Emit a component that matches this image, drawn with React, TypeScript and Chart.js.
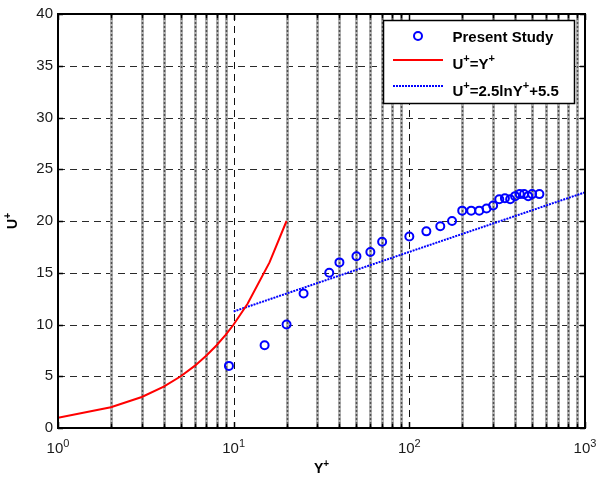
import React, { useEffect, useRef } from 'react';
import { Chart, registerables } from 'chart.js';

Chart.register(...registerables);

// Present study data (Y+, U+)
const presentX = [9.4, 15, 20, 25, 35, 40, 50, 60, 70, 100, 125, 150, 175, 200, 225, 250, 275, 300, 325, 350, 375, 400, 425, 450, 475, 500, 550];
const presentY = [6, 8, 10, 13, 15, 16, 16.6, 17, 18, 18.5, 19, 19.5, 20, 21, 21, 21, 21.2, 21.5, 22.1, 22.2, 22.1, 22.4, 22.6, 22.6, 22.4, 22.6, 22.6];

// Viscous sublayer U+ = Y+
const linearX = [1, 2, 3, 4, 5, 6, 7, 8, 9, 10, 12, 16, 20];
const linearY = [1, 2, 3, 4, 5, 6, 7, 8, 9, 10, 12, 16, 20];

// Log law U+ = 2.5 ln Y+ + 5.5
const logLawX = [10, 1000];
const logLawY = [11.26, 22.77];

// Axes
const xMin = 1;
const xMax = 1000;
const yMin = 0;
const yMax = 40;
const yStep = 5;
const xTickValues = [1, 10, 100, 1000];
const xTickBase = '10';
const xTickExps = ['0', '1', '2', '3'];

type Part = [string, boolean];
const xTitle: Part[] = [['Y', false], ['+', true]];
const yTitle: Part[] = [['U', false], ['+', true]];
const legendLabels: Part[][] = [
  [['Present Study', false]],
  [['U', false], ['+', true], ['=Y', false], ['+', true]],
  [['U', false], ['+', true], ['=2.5lnY', false], ['+', true], ['+5.5', false]],
];

const FONT = '"Liberation Sans", Arial, Helvetica, sans-serif';
const BLUE = '#0000ff';
const RED = '#ff0000';

function fontStr(size: number, bold: boolean) {
  return `${bold ? 'bold ' : ''}${size}px ${FONT}`;
}

function richWidth(ctx: CanvasRenderingContext2D, parts: Part[], size: number, bold: boolean) {
  const sup = Math.round(size * 0.7);
  let w = 0;
  for (const [t, s] of parts) {
    ctx.font = fontStr(s ? sup : size, bold);
    w += ctx.measureText(t).width;
  }
  return w;
}

function drawRich(ctx: CanvasRenderingContext2D, parts: Part[], x: number, y: number, size: number, bold: boolean, align: 'left' | 'center') {
  const sup = Math.round(size * 0.7);
  const w = richWidth(ctx, parts, size, bold);
  let cx = align === 'center' ? x - w / 2 : x;
  ctx.textAlign = 'left';
  ctx.textBaseline = 'alphabetic';
  for (const [t, s] of parts) {
    ctx.font = fontStr(s ? sup : size, bold);
    ctx.fillText(t, cx, s ? y - size * 0.42 : y);
    cx += ctx.measureText(t).width;
  }
}

const matlabPlugin = {
  id: 'matlabStyle',
  beforeDatasetsDraw(chart: any) {
    const { ctx, chartArea: a, scales } = chart;
    const xs = scales.x;
    const ys = scales.y;
    ctx.save();
    ctx.beginPath();
    ctx.rect(a.left, a.top, a.right - a.left, a.bottom - a.top);
    ctx.clip();
    // horizontal grid
    ctx.strokeStyle = '#2a2a2a';
    ctx.lineWidth = 1;
    ctx.setLineDash([7, 5]);
    for (let v = yMin + yStep; v < yMax; v += yStep) {
      const y = Math.round(ys.getPixelForValue(v)) + 0.5;
      ctx.beginPath();
      ctx.moveTo(a.left, y);
      ctx.lineTo(a.right, y);
      ctx.stroke();
    }
    // vertical grid
    for (let d = 1; d < xMax; d *= 10) {
      for (let k = 1; k <= 9; k++) {
        const v = k * d;
        if (v <= xMin || v >= xMax) continue;
        const x = xs.getPixelForValue(v);
        if (k === 1) {
          ctx.strokeStyle = '#111';
          ctx.lineWidth = 1;
          ctx.setLineDash([7, 5]);
          const xx = Math.round(x) + 0.5;
          ctx.beginPath();
          ctx.moveTo(xx, a.top);
          ctx.lineTo(xx, a.bottom);
          ctx.stroke();
        } else {
          const xx = Math.round(x) + 0.5;
          ctx.strokeStyle = '#b4b4b4';
          ctx.lineWidth = 3;
          ctx.setLineDash([]);
          ctx.beginPath();
          ctx.moveTo(xx, a.top);
          ctx.lineTo(xx, a.bottom);
          ctx.stroke();
          ctx.strokeStyle = '#505050';
          ctx.lineWidth = 1.5;
          ctx.setLineDash([2, 2]);
          ctx.beginPath();
          ctx.moveTo(xx, a.top);
          ctx.lineTo(xx, a.bottom);
          ctx.stroke();
        }
      }
    }
    ctx.restore();
  },
  afterDraw(chart: any) {
    const { ctx, chartArea: a, scales } = chart;
    const xs = scales.x;
    const ys = scales.y;
    ctx.save();
    ctx.setLineDash([]);
    ctx.strokeStyle = '#000';
    // inward ticks
    ctx.lineWidth = 1.5;
    for (let v = yMin; v <= yMax; v += yStep) {
      const y = Math.round(ys.getPixelForValue(v)) + 0.5;
      ctx.beginPath();
      ctx.moveTo(a.left, y);
      ctx.lineTo(a.left + 5, y);
      ctx.moveTo(a.right, y);
      ctx.lineTo(a.right - 5, y);
      ctx.stroke();
    }
    for (let d = 1; d <= xMax; d *= 10) {
      for (let k = 1; k <= 9; k++) {
        const v = k * d;
        if (v < xMin || v > xMax) continue;
        const len = k === 1 ? 6 : 4;
        const x = Math.round(xs.getPixelForValue(v)) + 0.5;
        ctx.beginPath();
        ctx.moveTo(x, a.bottom);
        ctx.lineTo(x, a.bottom - len);
        ctx.moveTo(x, a.top);
        ctx.lineTo(x, a.top + len);
        ctx.stroke();
      }
    }
    // box
    ctx.lineWidth = 2;
    ctx.strokeRect(a.left, a.top, a.right - a.left, a.bottom - a.top);

    // x tick labels
    ctx.fillStyle = '#1a1a1a';
    xTickValues.forEach((v, i) => {
      const x = xs.getPixelForValue(v);
      drawRich(ctx, [[xTickBase, false], [xTickExps[i], true]], x, a.bottom + 25, 15, false, 'center');
    });

    // axis titles
    ctx.fillStyle = '#000';
    drawRich(ctx, xTitle, (a.left + a.right) / 2, a.bottom + 45, 14, true, 'center');
    ctx.save();
    ctx.translate(17, (a.top + a.bottom) / 2);
    ctx.rotate(-Math.PI / 2);
    drawRich(ctx, yTitle, 0, 0, 14, true, 'center');
    ctx.restore();

    // legend
    const lx = 383.5;
    const ly = 20.5;
    const lw = 191;
    const lh = 83;
    ctx.fillStyle = '#fff';
    ctx.fillRect(lx, ly, lw, lh);
    ctx.strokeStyle = '#000';
    ctx.lineWidth = 1.5;
    ctx.setLineDash([]);
    ctx.strokeRect(lx, ly, lw, lh);

    const markerY = [36, 60, 86];
    const textY = [41.5, 68.5, 95.5];
    // marker row 1
    ctx.strokeStyle = BLUE;
    ctx.lineWidth = 2;
    ctx.beginPath();
    ctx.arc(418, markerY[0], 4, 0, Math.PI * 2);
    ctx.stroke();
    // red line
    ctx.strokeStyle = RED;
    ctx.lineWidth = 2;
    ctx.beginPath();
    ctx.moveTo(393, markerY[1]);
    ctx.lineTo(443, markerY[1]);
    ctx.stroke();
    // blue dotted
    ctx.strokeStyle = BLUE;
    ctx.lineWidth = 2;
    ctx.setLineDash([2, 1]);
    ctx.beginPath();
    ctx.moveTo(393, markerY[2]);
    ctx.lineTo(443, markerY[2]);
    ctx.stroke();
    ctx.setLineDash([]);

    ctx.fillStyle = '#000';
    legendLabels.forEach((parts, i) => {
      drawRich(ctx, parts, 452.5, textY[i], 15, true, 'left');
    });
    ctx.restore();
  },
};

export default function App() {
  const ref = useRef<HTMLCanvasElement | null>(null);

  useEffect(() => {
    if (!ref.current) return;
    const chart = new Chart(ref.current, {
      type: 'scatter',
      data: {
        datasets: [
          {
            label: 'Present Study',
            data: presentX.map((x, i) => ({ x, y: presentY[i] })),
            showLine: false,
            pointStyle: 'circle',
            pointRadius: 4,
            pointHoverRadius: 4,
            borderColor: BLUE,
            backgroundColor: 'rgba(0,0,0,0)',
            borderWidth: 2,
            order: 0,
          },
          {
            label: 'U+=Y+',
            data: linearX.map((x, i) => ({ x, y: linearY[i] })),
            showLine: true,
            pointRadius: 0,
            borderColor: RED,
            backgroundColor: RED,
            borderWidth: 2,
            order: 1,
          },
          {
            label: 'U+=2.5lnY+ +5.5',
            data: logLawX.map((x, i) => ({ x, y: logLawY[i] })),
            showLine: true,
            pointRadius: 0,
            borderColor: BLUE,
            backgroundColor: BLUE,
            borderWidth: 2,
            borderDash: [2, 1],
            order: 2,
          },
        ],
      },
      options: {
        responsive: false,
        animation: false,
        events: [],
        layout: { padding: { left: 0, top: 12, right: 11, bottom: 0 } },
        plugins: {
          legend: { display: false },
          tooltip: { enabled: false },
        },
        scales: {
          x: {
            type: 'logarithmic',
            min: xMin,
            max: xMax,
            ticks: { display: false },
            grid: { display: false, drawTicks: false },
            border: { display: false },
            afterFit: (s: any) => {
              s.height = 53;
            },
          },
          y: {
            type: 'linear',
            min: yMin,
            max: yMax,
            ticks: {
              stepSize: yStep,
              padding: 5,
              color: '#1a1a1a',
              font: { family: FONT, size: 15 },
            },
            grid: { display: false, drawTicks: false, tickLength: 0 },
            border: { display: false },
            afterFit: (s: any) => {
              s.width = 58;
            },
          },
        },
      },
      plugins: [matlabPlugin],
    } as any);
    return () => chart.destroy();
  }, []);

  return (
    <div style={{ position: 'absolute', left: 0, top: 0, width: 596, height: 481 }}>
      <canvas ref={ref} width={596} height={481} style={{ display: 'block', width: 596, height: 481 }} />
    </div>
  );
}
